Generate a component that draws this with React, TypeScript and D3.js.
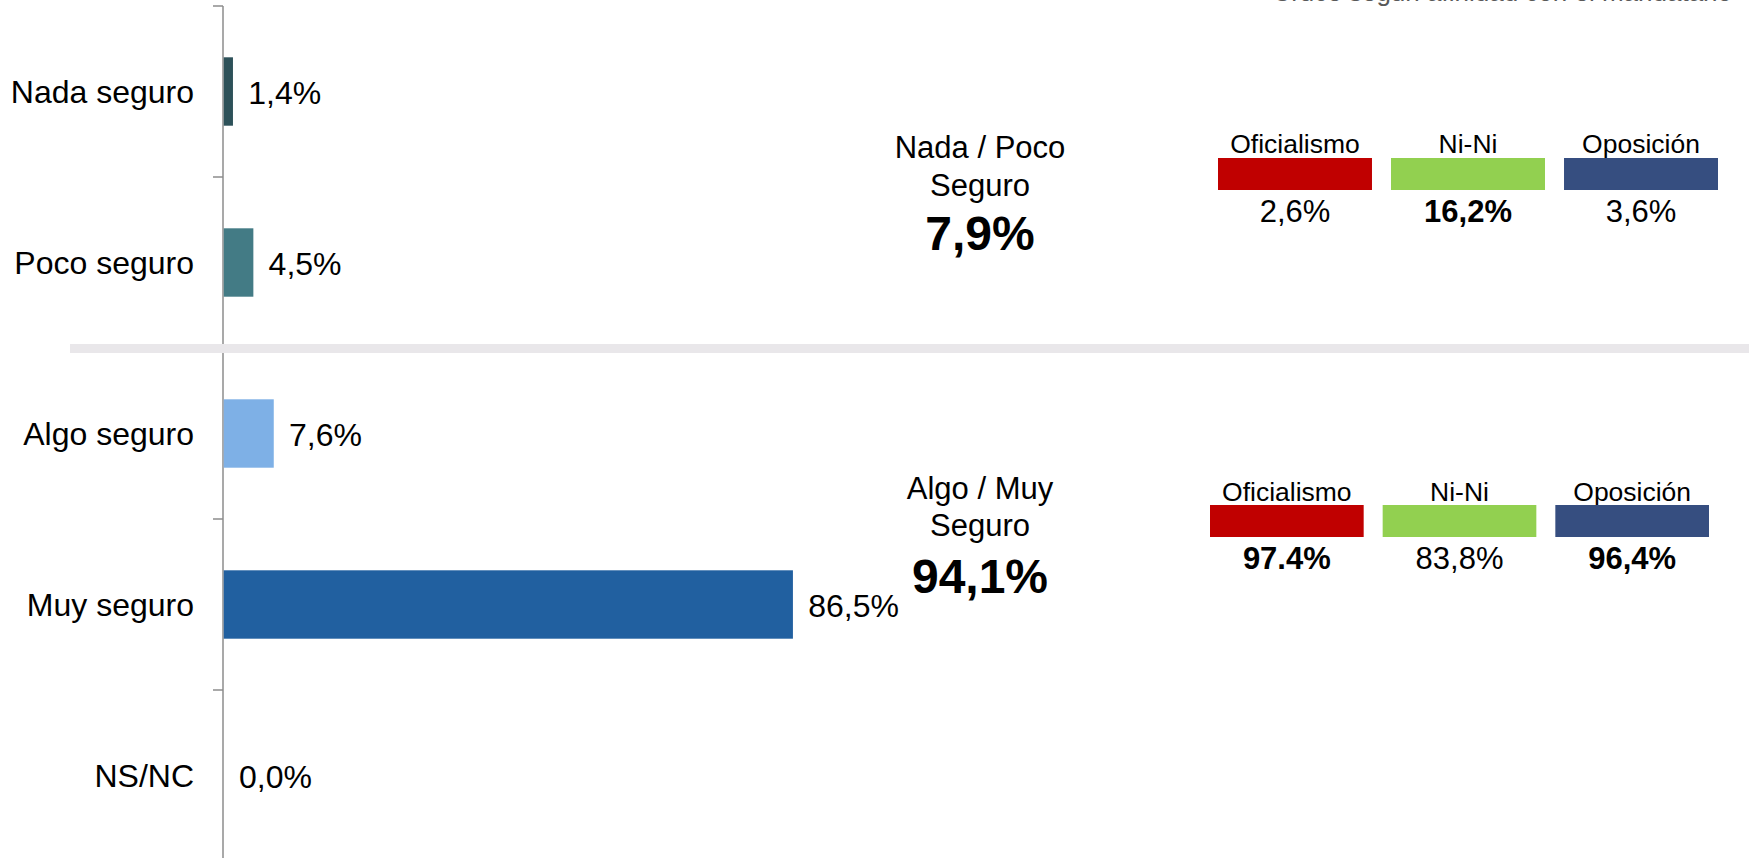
import React from 'react';
import * as d3 from 'd3';

// survey answers
const categories = ['Nada seguro', 'Poco seguro', 'Algo seguro', 'Muy seguro', 'NS/NC'];
const values = [1.4, 4.5, 7.6, 86.5, 0.0];
const barColors = ['#2D5159', '#437B85', '#7EB0E6', '#2160A0', '#2160A0'];

// grouped totals
const groupTitles = [['Nada / Poco', 'Seguro'], ['Algo / Muy', 'Seguro']];
const groupTotals = ['7,9%', '94,1%'];

// split by political affinity
const segments = ['Oficialismo', 'Ni-Ni', 'Oposición'];
const segmentColors = ['#C00000', '#92D050', '#364E80'];
const segmentValuesLow = ['2,6%', '16,2%', '3,6%'];
const segmentValuesHigh = ['97.4%', '83,8%', '96,4%'];
const segmentBoldLow = [false, true, false];
const segmentBoldHigh = [true, false, true];

const W = 1756;
const H = 858;
const FONT = '"Liberation Sans", Arial, Helvetica, sans-serif';

const esLocale = d3.formatLocale({ decimal: ',', thousands: '.', grouping: [3], currency: ['', ''] });
const fmt = esLocale.format('.1f');

export default function App() {
  const x = d3.scaleLinear().domain([0, 100]).range([223, 881]);
  const y = d3.scaleBand().domain(categories).range([6, 861]).paddingInner(0.6).paddingOuter(0.3);
  const step = y.step();
  const y0 = y.range()[0];
  const tickYs = d3.range(categories.length + 1).map(i => y0 + i * step);

  const blocks = [
    { cx: 980, titleY: [158, 196], totalY: 250, segX: [1218, 1718], labelY: 153, boxY: 158, valY: 222,
      vals: segmentValuesLow, bold: segmentBoldLow },
    { cx: 980, titleY: [499, 536], totalY: 593, segX: [1210, 1709], labelY: 501, boxY: 505, valY: 569,
      vals: segmentValuesHigh, bold: segmentBoldHigh },
  ];

  return (
    <svg width={W} height={H} style={{ position: 'absolute', left: 0, top: 0, background: '#fff' }}
      fontFamily={FONT}>
      {/* note cut off by the top edge */}
      <text x={1732} y={1} textAnchor="end" fontSize={26} fill="#595959">
        Cruce según afinidad con el mandatario
      </text>

      {/* axis */}
      <line x1={x(0)} x2={x(0)} y1={6} y2={H} stroke="#8C8C8C" strokeWidth={1.5} />
      {tickYs.map((ty, i) => (
        <line key={i} x1={x(0) - 10} x2={x(0)} y1={ty} y2={ty} stroke="#8C8C8C" strokeWidth={1.5} />
      ))}

      {categories.map((c, i) => {
        const by = y(c) as number;
        const cy = by + y.bandwidth() / 2;
        return (
          <g key={c}>
            {values[i] > 0 && (
              <rect x={x(0) + 0.75} y={by} width={x(values[i]) - x(0)} height={y.bandwidth()} fill={barColors[i]} />
            )}
            <text x={194} y={cy} dy="0.36em" textAnchor="end" fontSize={32} fill="#000">{c}</text>
            <text x={x(values[i]) + 16} y={cy} dy="0.38em" fontSize={32} fill="#000">{fmt(values[i])}%</text>
          </g>
        );
      })}

      {/* separator */}
      <rect x={70} y={344} width={1679} height={9} fill="#E9E7EA" />

      {blocks.map((b, bi) => {
        const sx = d3.scaleBand().domain(segments).range(b.segX).paddingInner(0.11);
        return (
          <g key={bi}>
            {groupTitles[bi].map((t, ti) => (
              <text key={ti} x={b.cx} y={b.titleY[ti]} textAnchor="middle" fontSize={31} fill="#000">{t}</text>
            ))}
            <text x={b.cx} y={b.totalY} textAnchor="middle" fontSize={48} fontWeight="bold" fill="#000">
              {groupTotals[bi]}
            </text>
            {segments.map((s, si) => {
              const cx = (sx(s) as number) + sx.bandwidth() / 2;
              return (
                <g key={s}>
                  <text transform={`translate(${cx},${b.labelY}) scale(1.06,1)`} textAnchor="middle"
                    fontSize={25} fill="#000">{s}</text>
                  <rect x={sx(s)} y={b.boxY} width={sx.bandwidth()} height={32} fill={segmentColors[si]} />
                  <text x={cx} y={b.valY} textAnchor="middle" fontSize={31}
                    fontWeight={b.bold[si] ? 'bold' : 'normal'} fill="#000">{b.vals[si]}</text>
                </g>
              );
            })}
          </g>
        );
      })}
    </svg>
  );
}
